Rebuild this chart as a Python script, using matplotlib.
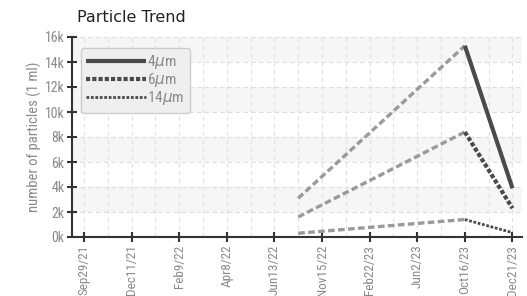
import numpy as np
import matplotlib
matplotlib.use("Agg")
import matplotlib.pyplot as plt
from matplotlib import font_manager as fm

# x axis categories (equally spaced dates)
dates = ["Sep29/21", "Dec11/21", "Feb9/22", "Apr8/22", "Jun13/22",
         "Nov15/22", "Feb22/23", "Jun2/23", "Oct16/23", "Dec21/23"]

# measurements: first point sits half way between Jun13/22 and Nov15/22
x_pts = [4.5, 8, 9]
p4 = [3.1, 15.3, 3.9]    # thousands
p6 = [1.6, 8.4, 2.3]
p14 = [0.3, 1.4, 0.35]

labels = ["4$\\mu$m", "6$\\mu$m", "14$\\mu$m"]

# pick a narrow font if one is around
have = {f.name for f in fm.fontManager.ttflist}
narrow_font = "DejaVu Sans"
for cand in ["Liberation Sans Narrow", "Roboto Condensed", "Arial Narrow", "PT Sans Narrow",
             "Archivo Narrow", "Pragati Narrow", "Open Sans Condensed", "Fira Sans Condensed",
             "IBM Plex Sans Condensed", "Encode Sans Condensed", "Oswald"]:
    if cand in have:
        narrow_font = cand
        break
narrow = [narrow_font, "DejaVu Sans"]
fs = 9.5 if narrow_font != "DejaVu Sans" else 7.5

grey = "#8a8a8a"
dark = "#4a4a4a"

fig = plt.figure(figsize=(5.27, 2.96), dpi=100)
ax = fig.add_axes([72/527, 1 - 237/296, 450/527, 200/296])

ax.set_xlim(-0.25, 9.2)
ax.set_ylim(0, 16)

# alternating bands
for lo in range(0, 16, 4):
    ax.axhspan(lo + 2, lo + 4, color="#f6f6f6", zorder=0, lw=0)

# grid
for y in range(2, 17, 2):
    ax.axhline(y, color="#dddddd", lw=0.8, ls=(0, (4, 3)), zorder=1)
for x in np.arange(0, 9.6, 0.5):
    ax.axvline(x, color="#e2e2e2", lw=0.8, ls=(0, (4, 3)), zorder=1)

# gap segments (dashed grey)
for vals in (p4, p6, p14):
    ax.plot(x_pts[:2], vals[:2], color="#9a9a9a", lw=2.4, ls=(0, (2, 1)), zorder=3)

# measured segments
h4, = ax.plot(x_pts[1:], p4[1:], color=dark, lw=3, solid_capstyle="butt", zorder=4)
h6, = ax.plot(x_pts[1:], p6[1:], color=dark, lw=3, ls=(0, (1, 0.5)), zorder=4)
h14, = ax.plot(x_pts[1:], p14[1:], color=dark, lw=2, ls=(0, (1, 0.6)), zorder=4)

ax.set_xticks(range(len(dates)))
ax.set_xticklabels(dates, rotation=90, family=narrow, fontsize=fs, color=grey)
ax.set_yticks(range(0, 17, 2))
ax.set_yticklabels([f"{v}k" for v in range(0, 17, 2)], family=narrow, fontsize=fs + 0.5, color=grey)
ax.tick_params(direction="inout", length=7, width=1.5, color="#333333", pad=2)

for s in ("top", "right"):
    ax.spines[s].set_visible(False)
for s in ("left", "bottom"):
    ax.spines[s].set_linewidth(1.5)
    ax.spines[s].set_color("#333333")

ax.set_ylabel("number of particles (1 ml)", family=narrow, fontsize=fs + 1, color=grey, labelpad=2)

fig.text(77/527, 1 - 18/296, "Particle Trend", fontsize=11.5, color="#222222", va="center", ha="left")

leg = ax.legend([h4, h6, h14], labels, loc="upper left", bbox_to_anchor=(0.02, 0.945),
                handlelength=3.9, handletextpad=0.1, labelspacing=0.0, borderpad=0.35,
                borderaxespad=0, fancybox=True, framealpha=1,
                prop={"size": 11, "family": narrow})
leg.get_frame().set_facecolor("#efefef")
leg.get_frame().set_edgecolor("#cccccc")
for t in leg.get_texts():
    t.set_color(grey)

fig.savefig("out.png", dpi=100)
